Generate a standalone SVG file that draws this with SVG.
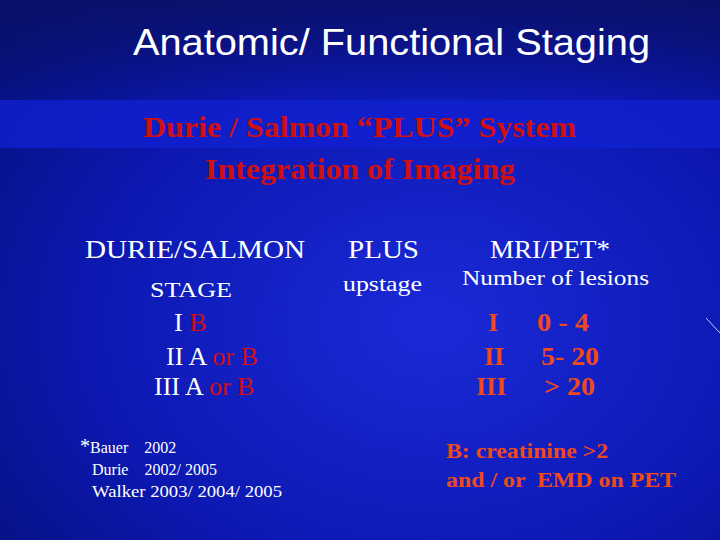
<svg xmlns="http://www.w3.org/2000/svg" width="720" height="540" viewBox="0 0 720 540">
<defs>
<radialGradient id="bg" cx="0.6" cy="0.6" r="0.8">
<stop offset="0" stop-color="#1a2ad8"/><stop offset="0.6" stop-color="#0c18b0"/><stop offset="1" stop-color="#05107a"/>
</radialGradient>
<linearGradient id="top" x1="0" y1="0" x2="0" y2="1">
<stop offset="0" stop-color="#0a1068" stop-opacity="0.9"/><stop offset="1" stop-color="#0a1068" stop-opacity="0"/>
</linearGradient>
<style>
text{white-space:pre}
.w{fill:#ffffff;font-family:"Liberation Serif",serif}
.r{fill:#d01010;font-family:"Liberation Serif",serif;font-weight:bold}
.o{fill:#f04a1a;font-family:"Liberation Serif",serif;font-weight:bold}
</style>
</defs>
<rect width="720" height="540" fill="url(#bg)"/>
<rect width="720" height="100" fill="url(#top)"/>
<rect x="0" y="100" width="720" height="48" fill="#1020d0" opacity="0.8"/>
<line x1="706" y1="318" x2="720" y2="333" stroke="#c8c8ff" stroke-width="1"/>
<g id="title"><text x="133" y="55" textLength="517" lengthAdjust="spacingAndGlyphs" font-family="Liberation Sans,sans-serif" font-size="36" fill="#fff">Anatomic/ Functional Staging</text></g>
<g id="subtitle">
<text class="r" x="143" y="137" textLength="433" lengthAdjust="spacingAndGlyphs" font-size="29">Durie / Salmon “PLUS” System</text>
<text class="r" x="205" y="179" textLength="310" lengthAdjust="spacingAndGlyphs" font-size="29">Integration of Imaging</text>
</g>
<g id="col1">
<text class="w" x="85" y="258" textLength="220" lengthAdjust="spacingAndGlyphs" font-size="25">DURIE/SALMON</text>
<text class="w" x="150" y="297" textLength="82" lengthAdjust="spacingAndGlyphs" font-size="21">STAGE</text>
<text class="w" x="174" y="331" font-size="26">I <tspan fill="#d01010">B</tspan></text>
<text class="w" x="166" y="365" font-size="26">II A <tspan fill="#d01010">or B</tspan></text>
<text class="w" x="154" y="395" font-size="26">III A <tspan fill="#d01010">or B</tspan></text>
</g>
<g id="col2">
<text class="w" x="348" y="258" textLength="71" lengthAdjust="spacingAndGlyphs" font-size="25">PLUS</text>
<text class="w" x="343" y="291" textLength="79" lengthAdjust="spacingAndGlyphs" font-size="21">upstage</text>
</g>
<g id="col3">
<text class="w" x="490" y="258" textLength="120" lengthAdjust="spacingAndGlyphs" font-size="25">MRI/PET*</text>
<text class="w" x="462" y="285" textLength="187" lengthAdjust="spacingAndGlyphs" font-size="21">Number of lesions</text>
<text class="o" x="488" y="331" font-size="26" font-weight="normal">I</text>
<text class="o" x="484" y="365" font-size="26" font-weight="normal">II</text>
<text class="o" x="476" y="395" font-size="26" font-weight="normal">III</text>
<text class="o" x="537" y="331" textLength="52" lengthAdjust="spacingAndGlyphs" font-size="26">0 - 4</text>
<text class="o" x="541" y="365" textLength="58" lengthAdjust="spacingAndGlyphs" font-size="26">5- 20</text>
<text class="o" x="544" y="395" textLength="51" lengthAdjust="spacingAndGlyphs" font-size="26">&gt; 20</text>
</g>
<g id="refs">
<text class="w" x="80" y="453" font-size="20">*<tspan font-size="16">Bauer    2002</tspan></text>
<text class="w" x="92" y="475" font-size="16">Durie    2002/ 2005</text>
<text class="w" x="92" y="497" textLength="190" lengthAdjust="spacingAndGlyphs" font-size="16">Walker 2003/ 2004/ 2005</text>
</g>
<g id="note">
<text class="o" x="446" y="458" textLength="162" lengthAdjust="spacingAndGlyphs" font-size="20">B: creatinine &gt;2</text>
<text class="o" x="446" y="487" textLength="230" lengthAdjust="spacingAndGlyphs" font-size="20">and / or  EMD on PET</text>
</g>
</svg>
